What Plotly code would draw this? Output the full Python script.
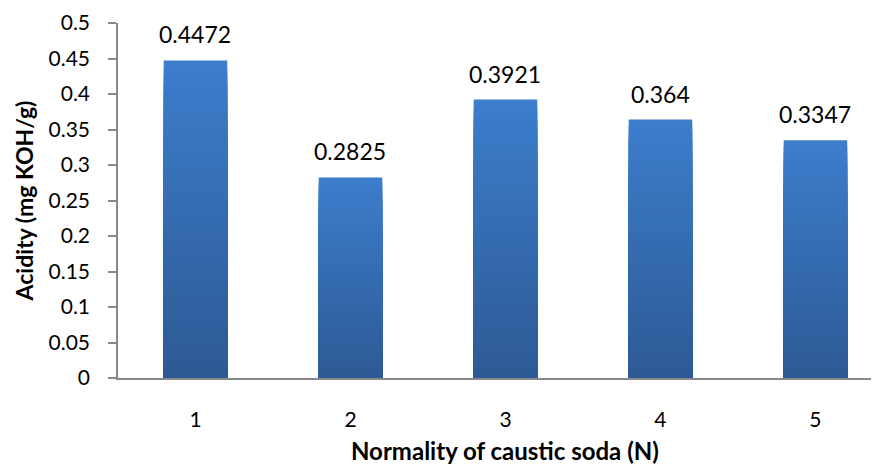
import plotly.graph_objects as go

# ---- data ----
categories = ["1", "2", "3", "4", "5"]
acidity = [0.4472, 0.2825, 0.3921, 0.364, 0.3347]
value_labels = ["0.4472", "0.2825", "0.3921", "0.364", "0.3347"]
y_tickvals = [0, 0.05, 0.1, 0.15, 0.2, 0.25, 0.3, 0.35, 0.4, 0.45, 0.5]
y_ticktext = ["0", "0.05", "0.1", "0.15", "0.2", "0.25", "0.3", "0.35", "0.4", "0.45", "0.5"]
x_title = "Normality of caustic soda (N)"
y_title = "Acidity (mg KOH/g)"

FONT = "Lato, 'Open Sans', sans-serif"
TOP = (0x3C, 0x7D, 0xCC)
BOTTOM = (0x2D, 0x5A, 0x95)
STEPS = 40

xpos = list(range(1, len(categories) + 1))

fig = go.Figure()
# vertical gradient per bar: overlaid bars of decreasing height
for k in range(STEPS):
    f = 1 - k / STEPS
    t = k / (STEPS - 1)
    c = tuple(round(TOP[i] + (BOTTOM[i] - TOP[i]) * t) for i in range(3))
    fig.add_trace(go.Bar(
        x=xpos, y=[v * f for v in acidity],
        marker=dict(color="rgb(%d,%d,%d)" % c, line=dict(width=0)),
        width=0.41, showlegend=False, hoverinfo="skip" if k else None,
    ))

for xv, v, lab in zip(xpos, acidity, value_labels):
    fig.add_annotation(x=xv, y=v, text=lab, showarrow=False, xref="x", yref="y",
                       yanchor="bottom", yshift=10,
                       font=dict(family=FONT, size=23, color="#000"))

fig.add_annotation(x=xpos[len(xpos) // 2], y=0, xref="x", yref="paper",
                   yanchor="middle", yshift=-72, text="<b>%s</b>" % x_title,
                   showarrow=False, font=dict(family=FONT, size=24, color="#000"))

fig.update_layout(
    width=871, height=460,
    margin=dict(l=110, r=0, t=15, b=90),
    barmode="overlay",
    plot_bgcolor="white", paper_bgcolor="white",
    font=dict(family=FONT, size=21, color="#000"),
    xaxis=dict(range=[0.5, 5.41], tickvals=xpos, ticktext=categories,
               showgrid=False, zeroline=False, showline=True, automargin=False,
               linecolor="#898989", linewidth=1.5, ticks="",
               ticklabelstandoff=22, tickfont=dict(size=21)),
    yaxis=dict(range=[0, 0.5], tickvals=y_tickvals, ticktext=y_ticktext,
               showgrid=False, zeroline=False, showline=True, automargin=False,
               linecolor="#898989", linewidth=1.5, ticks="outside",
               ticklen=8, tickcolor="#898989", tickwidth=1.5,
               ticklabelstandoff=14, tickfont=dict(size=21),
               ticklabeloverflow="allow",
               title=dict(text="<b>%s</b>" % y_title, standoff=8,
                          font=dict(size=23))),
)

fig.write_html("out.html")
